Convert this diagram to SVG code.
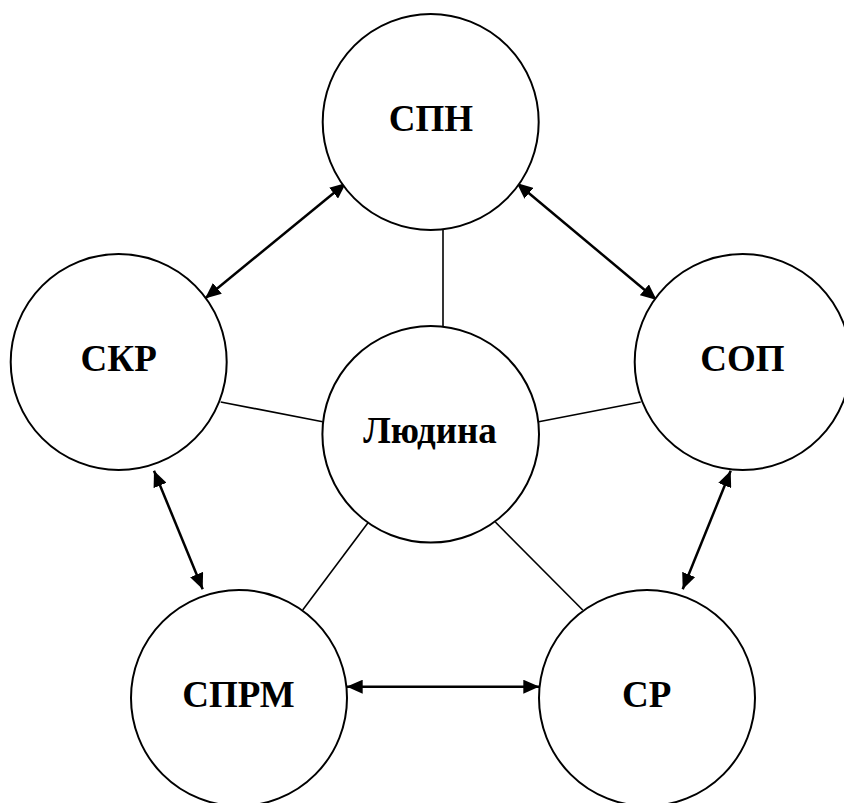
<svg xmlns="http://www.w3.org/2000/svg" width="844" height="803" viewBox="0 0 844 803">
  <style>
    .node circle { fill: #ffffff; stroke: #000000; stroke-width: 2; }
    .node text { font-family: "Liberation Serif", "Times New Roman", serif; font-weight: bold; font-size: 37px; fill: #000000; text-anchor: middle; }
    .link { stroke: #000000; stroke-width: 1.6; fill: none; }
    .both { stroke: #000000; stroke-width: 2.5; fill: none; marker-start: url(#head); marker-end: url(#head); }
  </style>
  <defs>
    <marker id="head" markerUnits="userSpaceOnUse" markerWidth="16" markerHeight="14" viewBox="0 0 16 14" refX="16" refY="7" orient="auto-start-reverse">
      <path d="M0,0 L16,7 L0,14 Z" fill="#000000"/>
    </marker>
  </defs>
  <rect width="844" height="803" fill="#ffffff"/>

  <g id="connectors">
    <!-- plain links from the centre -->
    <line class="link" x1="443" y1="230" x2="443" y2="326"/>
    <line class="link" x1="220.7" y1="402" x2="322.7" y2="421.7"/>
    <line class="link" x1="640.7" y1="402" x2="538.7" y2="421.7"/>
    <line class="link" x1="368" y1="522.7" x2="302.7" y2="610"/>
    <line class="link" x1="495.3" y1="522" x2="582.7" y2="610"/>
    <!-- two-way links around the ring -->
    <line class="both" x1="205" y1="298.5" x2="346" y2="183"/>
    <line class="both" x1="516.7" y1="183" x2="656.7" y2="300"/>
    <line class="both" x1="154" y1="470.7" x2="202.7" y2="589.3"/>
    <line class="both" x1="730.7" y1="470.7" x2="682.7" y2="589.3"/>
    <line class="both" x1="346.7" y1="686.7" x2="539.3" y2="686.7"/>
  </g>

  <g id="spn" class="node">
    <circle cx="430.7" cy="122" r="108"/>
    <text x="431" y="131">СПН</text>
  </g>
  <g id="skr" class="node">
    <circle cx="118.7" cy="362" r="108"/>
    <text x="118.7" y="371">СКР</text>
  </g>
  <g id="sop" class="node">
    <circle cx="742.7" cy="362" r="108"/>
    <text x="742.5" y="371">СОП</text>
  </g>
  <g id="liudyna" class="node">
    <circle cx="430.7" cy="434.3" r="108.3"/>
    <text x="430" y="443.3">Людина</text>
  </g>
  <g id="sprm" class="node">
    <circle cx="239" cy="698" r="108"/>
    <text x="238.5" y="706.7">СПРМ</text>
  </g>
  <g id="sr" class="node">
    <circle cx="647" cy="698" r="108"/>
    <text x="646.7" y="706.7">СР</text>
  </g>
</svg>
